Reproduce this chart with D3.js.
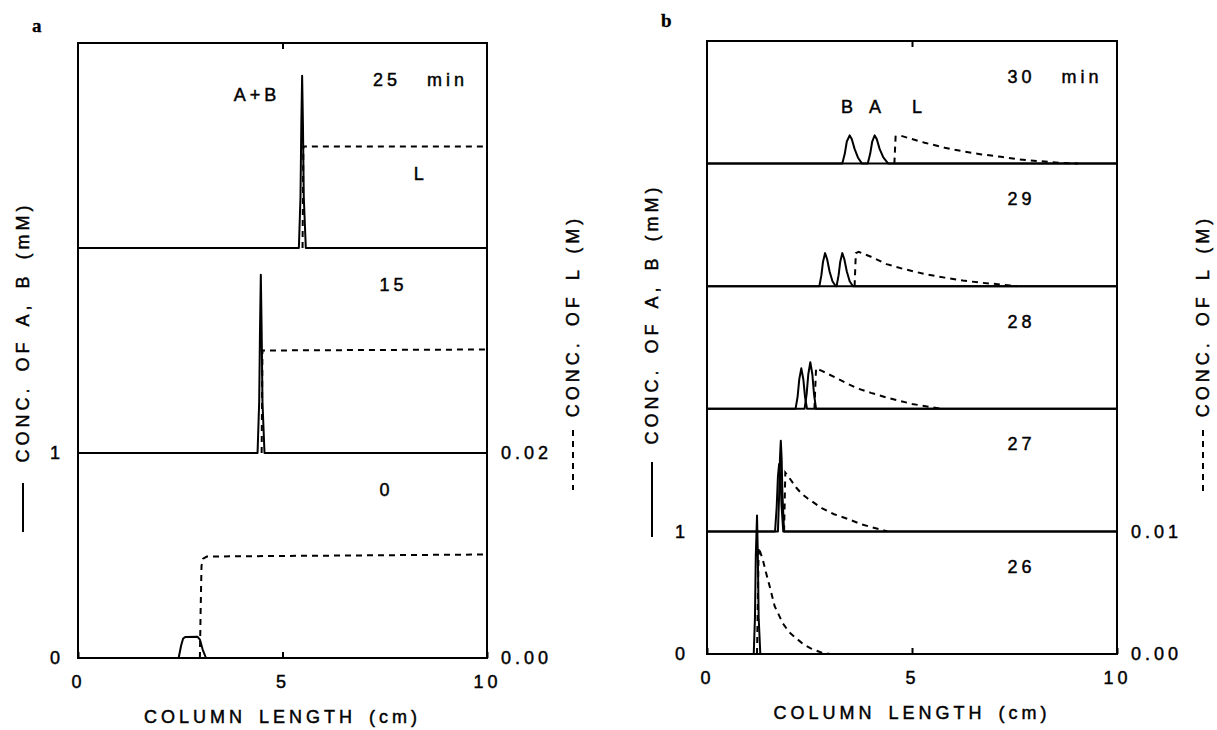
<!DOCTYPE html>
<html>
<head>
<meta charset="utf-8">
<script src="https://cdn.jsdelivr.net/npm/d3@7"></script>
<style>
  body { margin: 0; background: #fff; }
  svg text { font-family: "Liberation Sans", Arial, sans-serif; font-size: 18px; fill: #000; stroke: #000; stroke-width: 0.45px; letter-spacing: 4px; word-spacing: 4px; }
  svg text.panel { font-family: "Liberation Serif", serif; font-weight: bold; font-size: 19px; letter-spacing: 0; stroke-width: 0.3px; }
</style>
</head>
<body>
<svg id="chart" width="1217" height="730"></svg>
<script>
// ---- tick labels
var xTicks = [0, 5, 10];
var aLeftTicks = ["0", "1"];
var aRightTicks = ["0.00", "0.02"];
var bLeftTicks = ["0", "1"];
var bRightTicks = ["0.00", "0.01"];

// ---- panel a : times (min), A+B conc (mM) and L conc (M) vs column length (cm)
var aTimes = ["0", "15", "25  min"];
var aAB0 = [[0,0],[2.46,0],[2.52,0.06],[2.57,0.095],[2.62,0.102],[2.92,0.104],[2.98,0.09],[3.05,0.04],[3.13,0],[10,0]];
var aAB15 = [[0,0],[4.39,0],[4.43,0.25],[4.45,0.6],[4.47,0.87],[4.49,0.6],[4.51,0.25],[4.56,0],[10,0]];
var aAB25 = [[0,0],[5.40,0],[5.44,0.25],[5.46,0.6],[5.48,0.84],[5.50,0.6],[5.52,0.25],[5.57,0],[10,0]];
var aL0 = [[2.98,0],[3.0,0.005],[3.02,0.009],[3.06,0.0097],[3.15,0.0099],[10,0.0101]];
var aL15 = [[4.49,0],[4.51,0.0100],[10,0.0101]];
var aL25 = [[5.49,0],[5.51,0.0099],[10,0.0099]];

// ---- panel b : times 26..30 min, A and B (mM), L (M)
var bTimes = ["26", "27", "28", "29", "30  min"];
var bAB26 = [[0,0],[1.14,0],[1.17,0.3],[1.19,0.8],[1.22,1.13],[1.24,0.8],[1.26,0.3],[1.30,0],[10,0]];
var bB27 = [[0,0],[1.66,0],[1.70,0.2],[1.73,0.45],[1.76,0.55],[1.79,0.45],[1.82,0.2],[1.86,0],[10,0]];
var bA27 = [[0,0],[1.73,0],[1.76,0.3],[1.78,0.6],[1.80,0.74],[1.82,0.6],[1.84,0.3],[1.88,0],[10,0]];
var bB28 = [[0,0],[2.16,0],[2.21,0.1],[2.25,0.24],[2.30,0.33],[2.35,0.24],[2.39,0.1],[2.44,0],[10,0]];
var bA28 = [[0,0],[2.38,0],[2.43,0.12],[2.47,0.28],[2.52,0.38],[2.57,0.28],[2.61,0.12],[2.66,0],[10,0]];
var bB29 = [[0,0],[2.74,0],[2.79,0.09],[2.83,0.2],[2.88,0.27],[2.93,0.22],[2.99,0.12],[3.06,0.04],[3.14,0],[10,0]];
var bA29 = [[0,0],[3.16,0],[3.21,0.09],[3.25,0.2],[3.30,0.27],[3.35,0.22],[3.41,0.12],[3.48,0.04],[3.56,0],[10,0]];
var bB30 = [[0,0],[3.30,0],[3.36,0.08],[3.41,0.18],[3.48,0.23],[3.53,0.2],[3.60,0.12],[3.68,0.05],[3.78,0],[10,0]];
var bA30 = [[0,0],[3.92,0],[3.98,0.08],[4.03,0.18],[4.09,0.23],[4.14,0.2],[4.21,0.12],[4.30,0.05],[4.42,0],[10,0]];
var bL26 = [[1.22,0],[1.26,0.0087],[1.36,0.0077],[1.45,0.0065],[1.53,0.0055],[1.65,0.0039],[1.85,0.0025],[2.0,0.0018],[2.17,0.0013],[2.35,0.0008],[2.53,0.00046],[2.8,0.0001],[3.0,0]];
var bL27 = [[1.88,0],[1.91,0.0048],[2.0,0.0044],[2.17,0.0036],[2.3,0.0031],[2.45,0.0027],[2.8,0.0019],[3.1,0.0014],[3.45,0.001],[3.75,0.0006],[4.0,0.00036],[4.4,0]];
var bL28 = [[2.62,0],[2.66,0.0033],[2.8,0.0031],[3.1,0.0026],[3.4,0.0021],[3.64,0.0017],[4.0,0.0013],[4.4,0.0009],[5.0,0.0004],[5.7,0]];
var bL29 = [[3.6,0],[3.63,0.0027],[3.7,0.0028],[4.0,0.0024],[4.38,0.0018],[4.8,0.0014],[5.3,0.001],[5.8,0.0007],[6.24,0.00046],[6.7,0.00028],[7.17,0.00014],[7.55,0]];
var bL30 = [[4.57,0],[4.6,0.0022],[4.7,0.0023],[5.0,0.002],[5.31,0.0017],[5.8,0.0013],[6.24,0.001],[6.7,0.00075],[7.17,0.00055],[7.6,0.00035],[8.1,0.0002],[8.6,0.00007],[9.05,0]];

var svg = d3.select("#chart");

var drawPanel = p => {
  var x = d3.scaleLinear().domain([0, 10]).range([p.left, p.right]);
  var y = d3.scaleLinear().domain([0, p.times.length]).range([p.bottom, p.top]);
  var g = svg.append("g");

  var line = (off, unit) => d3.line()
      .x(d => x(d[0]))
      .y(d => y(off + d[1] / unit));

  // A, B traces (their zero level is the strip baseline)
  p.solid.forEach((traces, i) => traces.forEach(t => {
    g.append("path")
      .datum(t)
      .attr("fill", "none")
      .attr("stroke", "#000")
      .attr("stroke-width", 2)
      .attr("stroke-linejoin", "round")
      .attr("d", line(i, 1));
  }));

  // L profiles, dashed
  p.lig.forEach((t, i) => {
    g.append("path")
      .datum(t)
      .attr("fill", "none")
      .attr("stroke", "#000")
      .attr("stroke-width", 2)
      .attr("stroke-dasharray", "6,5")
      .attr("d", line(i, p.lUnit));
  });

  // frame
  g.append("rect")
    .attr("x", x(0)).attr("y", y(p.times.length))
    .attr("width", x(10) - x(0)).attr("height", y(0) - y(p.times.length))
    .attr("fill", "none")
    .attr("stroke", "#000")
    .attr("stroke-width", 2);

  var clean = a => a.call(a => a.select(".domain").remove())
      .attr("font-size", null).attr("font-family", null);

  g.append("g")
    .attr("transform", `translate(0,${y(0)})`)
    .call(d3.axisBottom(x).tickValues(xTicks).tickSize(-6).tickPadding(17))
    .call(clean)
    .selectAll("line").attr("stroke-width", 2);
  g.append("g")
    .attr("transform", `translate(0,${y(p.times.length)})`)
    .call(d3.axisTop(x).tickValues([5]).tickSize(-6).tickFormat(""))
    .call(clean)
    .selectAll("line").attr("stroke-width", 2);
  g.append("g")
    .attr("transform", `translate(${x(0)},0)`)
    .call(d3.axisLeft(y).tickValues([0, 1]).tickSize(0).tickPadding(p.padL).tickFormat((d, i) => p.leftTicks[i]))
    .call(clean);
  g.append("g")
    .attr("transform", `translate(${x(10)},0)`)
    .call(d3.axisRight(y).tickValues([0, 1]).tickSize(0).tickPadding(14).tickFormat((d, i) => p.rightTicks[i]))
    .call(clean);

  // time labels
  p.times.forEach((t, i) => {
    g.append("text")
      .attr("x", x(t.length > 2 ? p.timeX - p.minShift : p.timeX))
      .attr("y", y(i + p.timeY))
      .style("white-space", "pre")
      .text(t);
  });

  // species labels
  p.notes.forEach(n => {
    g.append("text")
      .attr("x", x(n[1]))
      .attr("y", y(n[2]))
      .text(n[0]);
  });

  g.append("text")
    .attr("x", x(5))
    .attr("y", p.titleY)
    .attr("text-anchor", "middle")
    .text("COLUMN LENGTH (cm)");

  g.append("text")
    .attr("class", "panel")
    .attr("x", p.left - 46)
    .attr("y", p.panelY)
    .text(p.panel);

  // left y label with solid key
  g.append("text")
    .attr("transform", `translate(${p.left - 55},${p.labelL})rotate(-90)`)
    .attr("text-anchor", "middle")
    .attr("dominant-baseline", "central")
    .text("CONC. OF A, B (mM)");
  g.append("line")
    .attr("x1", p.left - 55).attr("x2", p.left - 55)
    .attr("y1", p.keyL[0]).attr("y2", p.keyL[1])
    .attr("stroke", "#000").attr("stroke-width", 2);

  // right y label with dashed key
  g.append("text")
    .attr("transform", `translate(${p.right + 86},${p.labelR})rotate(-90)`)
    .attr("text-anchor", "middle")
    .attr("dominant-baseline", "central")
    .text("CONC. OF L (M)");
  g.append("line")
    .attr("x1", p.right + 86).attr("x2", p.right + 86)
    .attr("y1", p.keyR[0]).attr("y2", p.keyR[1])
    .attr("stroke", "#000").attr("stroke-width", 2)
    .attr("stroke-dasharray", "6,5");
};

drawPanel({
  panel: "a", left: 78, right: 487, top: 43, bottom: 658, panelY: 32,
  times: aTimes, timeX: 7.37, minShift: 0.16, timeY: 0.79,
  solid: [[aAB0], [aAB15], [aAB25]],
  lig: [aL0, aL15, aL25], lUnit: 0.02,
  leftTicks: aLeftTicks, rightTicks: aRightTicks, padL: 14,
  notes: [["A+B", 3.81, 2.717], ["L", 8.21, 2.332]],
  titleY: 723, labelL: 332, keyL: [483, 532], labelR: 316, keyR: [430, 490]
});

drawPanel({
  panel: "b", left: 707, right: 1117, top: 41, bottom: 654, panelY: 27,
  times: bTimes, timeX: 7.33, minShift: 0, timeY: 0.66,
  solid: [[bAB26], [bB27, bA27], [bB28, bA28], [bB29, bA29], [bB30, bA30]],
  lig: [bL26, bL27, bL28, bL29, bL30], lUnit: 0.01,
  leftTicks: bLeftTicks, rightTicks: bRightTicks, padL: 18,
  notes: [["B", 3.27, 4.413], ["A", 3.95, 4.413], ["L", 5.0, 4.413]],
  titleY: 719, labelL: 314, keyL: [462, 537], labelR: 316, keyR: [430, 492]
});
</script>
</body>
</html>
